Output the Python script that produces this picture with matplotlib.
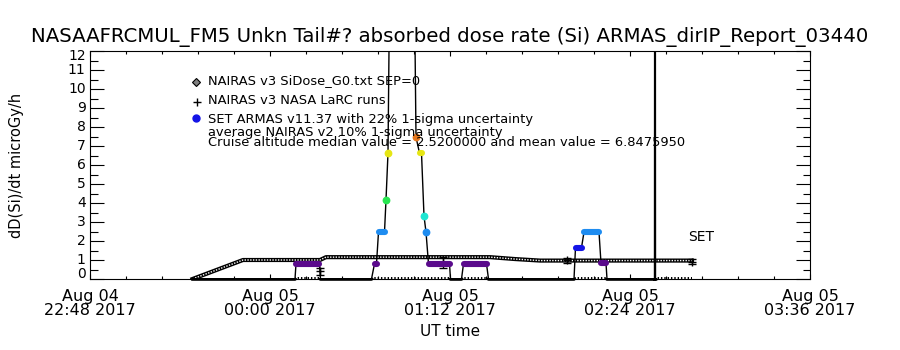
import matplotlib
matplotlib.use("Agg")
import matplotlib.pyplot as plt
from matplotlib.ticker import MultipleLocator, FixedLocator, NullFormatter
from matplotlib.patches import Rectangle
from matplotlib.transforms import blended_transform_factory

plt.rcParams['font.family'] = ['DejaVu Sans']

# time axis: minutes after 2017-08-04 22:48 UT
tick_minutes = [0, 72, 144, 216, 288]
tick_labels = ["Aug 04\n22:48 2017", "Aug 05\n00:00 2017", "Aug 05\n01:12 2017",
               "Aug 05\n02:24 2017", "Aug 05\n03:36 2017"]
ytick_values = list(range(13))
# where each y label sits (IDL pulls the end labels inside the axis)
ylabel_pos = [0.26, 1, 2, 3, 4, 5, 6, 7, 8, 9, 10, 11, 11.72]

# NAIRAS v3 SiDose_G0 model
nairas_t = [41.0, 61.2, 92.0, 94.4, 160.0, 170.0, 180.0, 240.8]
nairas_v = [0.0, 1.0, 1.0, 1.15, 1.15, 1.05, 0.97, 0.97]

# NAIRAS v3 NASA LaRC runs (with error bars)
larc_t = [92.0, 141.2, 190.8, 240.8]
larc_v = [0.4, 0.88, 0.98, 0.92]
larc_err = [0.2, 0.28, 0.12, 0.12]

# ARMAS measured dose rate (black trace)
armas_t = [41.2, 82.0, 82.4, 91.8, 92.2, 112.6, 113.8, 114.6, 115.4, 117.8, 118.4,
           119.2, 124.6, 130.4, 131.8, 132.6, 133.6, 134.4, 135.4, 143.8, 144.2,
           148.6, 149.4, 158.6, 159.4, 193.6, 194.2, 196.6, 197.6, 203.6, 204.4,
           206.4, 206.8, 225.8, 226.0, 226.2]
armas_v = [0, 0, 0.8, 0.8, 0, 0, 0.8, 0.8, 2.47, 2.47, 4.16,
           6.63, 80, 7.47, 6.63, 6.63, 3.32, 2.47, 0.8, 0.8, 0,
           0, 0.8, 0.8, 0, 0, 1.65, 1.65, 2.47, 2.47, 0.83,
           0.83, 0, 0, 60, 0]

# coloured ARMAS points (runs of points drawn as blobs)
blob_t0 = [82.4, 113.8, 115.4, 118.4, 119.2, 130.4, 131.8, 133.6, 134.4, 135.4, 149.4, 194.2, 197.6, 204.4]
blob_t1 = [91.6, 114.6, 117.8, 118.4, 119.2, 130.4, 132.6, 133.6, 134.4, 143.8, 158.6, 196.6, 203.6, 206.4]
blob_v = [0.8, 0.8, 2.47, 4.16, 6.63, 7.47, 6.63, 3.32, 2.47, 0.8, 0.8, 1.65, 2.47, 0.83]
blob_c = ['#5a0a8c', '#5a0a8c', '#1e8cf0', '#28e650', '#e6e614', '#e6781e', '#e6e614',
          '#1ee6d2', '#1e8cf0', '#5a0a8c', '#5a0a8c', '#1414e6', '#1e8cf0', '#5a0a8c']

# spans with small tick marks along the zero line
tick_span_start = [82.0, 112.6, 148.6, 193.6, 226.0]
tick_span_end = [92.2, 144.2, 159.4, 206.8, 240.8]

fig = plt.figure(figsize=(9, 3.5), dpi=100)
ax = fig.add_axes([0.1, 71 / 350, 0.8, 228 / 350])

for a, b in zip(tick_span_start, tick_span_end):
    ax.fill_between([a, b], 0, 0.13, hatch='|||||', facecolor='none',
                    edgecolor='black', linewidth=0, zorder=2)

ax.plot(nairas_t, nairas_v, color='black', lw=3.0, zorder=3)
ax.plot(nairas_t, nairas_v, color='white', lw=1.0, ls=(0, (1, 1)), zorder=3)

ax.errorbar(larc_t, larc_v, yerr=larc_err, fmt='+', color='black', ms=6,
            elinewidth=1, capsize=3, zorder=4)

ax.plot(armas_t, armas_v, color='black', lw=1.0, zorder=5)
# zero-level stretches of the ARMAS trace look heavier on the axis
thick, = ax.plot(armas_t, armas_v, color='black', lw=2.6, zorder=5)
thick.set_clip_path(Rectangle((0, -1), 288, 1.04, transform=ax.transData))

for a, b, v, c in zip(blob_t0, blob_t1, blob_v, blob_c):
    if a == b:
        ax.plot([a], [v], color=c, marker='o', ms=4.6, mec=c, ls='none', zorder=6)
    else:
        ax.plot([a, b], [v, v], color=c, lw=4.4, solid_capstyle='round', zorder=6)

ax.set_xlim(0, 288)
ax.set_ylim(0, 12)
ax.xaxis.set_major_locator(FixedLocator(tick_minutes))
ax.set_xticklabels(tick_labels, linespacing=0.95)
ax.xaxis.set_minor_locator(MultipleLocator(14.4))
ax.yaxis.set_major_locator(FixedLocator(ytick_values))
ax.yaxis.set_major_formatter(NullFormatter())
ax.yaxis.set_minor_locator(MultipleLocator(0.5))
ax.tick_params(axis='x', which='major', direction='in', length=3.6, width=0.8,
               top=True, labelsize=11.5, pad=7)
ax.tick_params(axis='x', which='minor', direction='in', length=2.2, width=0.8, top=True)
ax.tick_params(axis='y', which='major', direction='in', length=10, width=0.8, right=True)
ax.tick_params(axis='y', which='minor', direction='in', length=5.4, width=0.8, right=True)
for s in ax.spines.values():
    s.set_linewidth(0.8)

ytrans = blended_transform_factory(ax.transAxes, ax.transData)
for v, pos in zip(ytick_values, ylabel_pos):
    ax.text(-0.006, pos, str(v), transform=ytrans, ha='right', va='center', fontsize=10)

# titles and labels
fig.text(0.5, 1 - 37 / 350,
         "NASAAFRCMUL_FM5 Unkn Tail#? absorbed dose rate (Si) ARMAS_dirIP_Report_03440",
         ha='center', va='center', fontsize=14.2)
fig.text(17 / 900, 1 - 165 / 350, "dD(Si)/dt microGy/h", rotation=90,
         ha='center', va='center', fontsize=10.5)
fig.text(0.5, 1 - 331 / 350, "UT time", ha='center', va='center', fontsize=11)
fig.text(688 / 900, 1 - 237 / 350, "SET", ha='left', va='center', fontsize=10)

# legend-like annotation
lx = 208 / 900
fs = 9.4
fig.text(lx, 1 - 81 / 350, "NAIRAS v3 SiDose_G0.txt SEP=0", va='center', fontsize=fs)
fig.text(lx, 1 - 101 / 350, "NAIRAS v3 NASA LaRC runs", va='center', fontsize=fs)
fig.text(lx, 1 - 119 / 350, "SET ARMAS v11.37 with 22% 1-sigma uncertainty", va='center', fontsize=fs)
fig.text(lx, 1 - 132 / 350, "average NAIRAS v2 10% 1-sigma uncertainty", va='center', fontsize=fs)
fig.text(lx, 1 - 143 / 350,
         "Cruise altitude median value = 2.5200000 and mean value = 6.8475950",
         va='center', fontsize=fs)
fig.lines.append(plt.Line2D([196 / 900], [1 - 82 / 350], marker='D', ms=4, mfc='0.5',
                            mec='black', mew=0.8, transform=fig.transFigure))
fig.lines.append(plt.Line2D([197 / 900], [1 - 102 / 350], marker='+', ms=6, color='black',
                            transform=fig.transFigure))
fig.lines.append(plt.Line2D([196 / 900], [1 - 118 / 350], marker='o', ms=5, color='#1414e6',
                            transform=fig.transFigure))

fig.savefig("out.png", dpi=100)
